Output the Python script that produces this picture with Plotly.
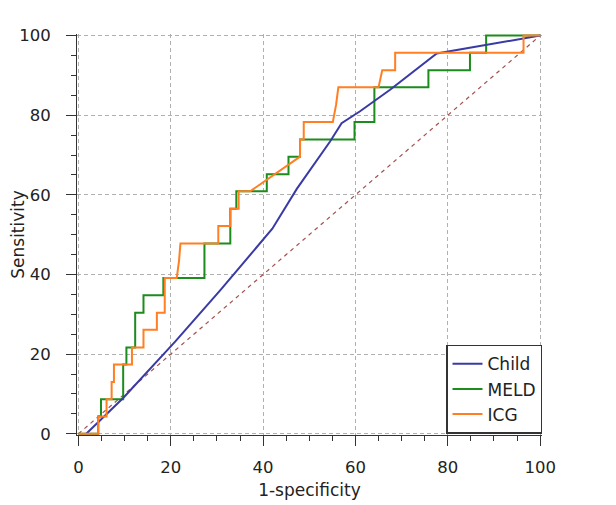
import plotly.graph_objects as go

# Reference diagonal
ref_x = [0, 100]
ref_y = [0, 100]

# Child (smooth ROC)
child_x = [1.7, 9.7, 21.0, 30.7, 42.0, 47.3, 54.5, 57.0, 61.0, 67.5, 77.6, 88.0, 100.0]
child_y = [0.0, 9.0, 23.2, 36.0, 51.5, 61.5, 73.4, 78.0, 81.0, 86.4, 95.5, 97.6, 100.0]

# MELD (step ROC)
meld_x = [0, 4.3, 4.3, 4.9, 4.9, 9.7, 9.7, 10.4, 10.4, 12.3, 12.3, 14.1, 14.1, 18.4, 18.4,
          27.3, 27.3, 32.9, 32.9, 34.2, 34.2, 40.8, 40.8, 45.5, 45.5, 48.0, 48.0, 59.8, 59.8,
          64.1, 64.1, 75.8, 75.8, 84.8, 84.8, 88.3, 88.3, 100]
meld_y = [0, 0, 4.35, 4.35, 8.7, 8.7, 17.4, 17.4, 21.7, 21.7, 30.4, 30.4, 34.8, 34.8, 39.1,
          39.1, 47.8, 47.8, 56.5, 56.5, 60.9, 60.9, 65.2, 65.2, 69.6, 69.6, 73.9, 73.9, 78.3,
          78.3, 87.0, 87.0, 91.3, 91.3, 95.7, 95.7, 100, 100]

# ICG (step ROC)
icg_x = [0, 4.3, 4.3, 6.1, 6.1, 7.2, 7.2, 7.7, 7.7, 11.6, 11.6, 14.1, 14.1, 17.0, 17.0,
         18.7, 18.7, 21.3, 21.8, 22.1, 30.3, 30.3, 32.9, 32.9, 34.7, 34.7, 37.2, 48.0, 48.0,
         48.8, 48.8, 55.1, 55.8, 56.3, 65.0, 65.8, 68.6, 68.6, 96.4, 96.4, 100]
icg_y = [0, 0, 4.35, 4.35, 8.7, 8.7, 13.0, 13.0, 17.4, 17.4, 21.7, 21.7, 26.1, 26.1, 30.4,
         30.4, 39.1, 39.1, 43.5, 47.8, 47.8, 52.2, 52.2, 56.5, 56.5, 60.9, 60.9, 69.6, 73.9,
         73.9, 78.3, 78.3, 82.6, 87.0, 87.0, 91.3, 91.3, 95.7, 95.7, 100, 100]

x_ticks = [0, 20, 40, 60, 80, 100]
y_ticks = [0, 20, 40, 60, 80, 100]

FONT = "DejaVu Sans"

fig = go.Figure()
fig.add_trace(go.Scatter(x=ref_x, y=ref_y, mode="lines", showlegend=False,
                         line=dict(color="#a4504f", width=1.2, dash="4px,4px"), hoverinfo="skip"))
fig.add_trace(go.Scatter(x=meld_x, y=meld_y, mode="lines", name="MELD", legendrank=2,
                         line=dict(color="#1c8c1c", width=2)))
fig.add_trace(go.Scatter(x=child_x, y=child_y, mode="lines", name="Child", legendrank=1,
                         line=dict(color="#3a3aa6", width=2)))
fig.add_trace(go.Scatter(x=icg_x, y=icg_y, mode="lines", name="ICG", legendrank=3,
                         line=dict(color="#ff7f22", width=2)))

axis_common = dict(
    automargin=False,
    showline=True, linecolor="#333333", linewidth=1,
    ticks="outside", ticklen=10, tickcolor="#333333", tickwidth=1,
    showgrid=True, gridcolor="#b0b0b0", griddash="4px,3px", gridwidth=1,
    zeroline=False,
    tickfont=dict(family=FONT, size=16.5, color="#222222"),
    minor=dict(dtick=5, ticks="outside", ticklen=5, tickcolor="#333333", showgrid=False),
)

fig.update_xaxes(range=[-0.3, 100.4], tickvals=x_ticks, ticktext=[str(v) for v in x_ticks],
                 ticklabelstandoff=7,
                 title=dict(text="1-specificity", font=dict(family=FONT, size=17, color="#222222"), standoff=8),
                 **axis_common)
fig.update_yaxes(range=[-0.3, 100.4], tickvals=y_ticks, ticktext=[str(v) for v in y_ticks],
                 ticklabelstandoff=12,
                 title=dict(text="Sensitivity", font=dict(family=FONT, size=17, color="#222222"), standoff=15),
                 **axis_common)

# page body has an 8px margin, so the figure is drawn 8px smaller and margins shifted
fig.update_layout(
    width=608, height=497,
    margin=dict(l=69, r=74, t=26, b=70),
    paper_bgcolor="white", plot_bgcolor="white",
    font=dict(family=FONT, size=17, color="#222222"),
    legend=dict(x=1, xanchor="right", y=0.003, yanchor="bottom",
                bgcolor="white", bordercolor="#333333", borderwidth=1.5,
                font=dict(family=FONT, size=17, color="#222222"),
                tracegroupgap=0, itemwidth=30, entrywidth=80, entrywidthmode="pixels"),
)

fig.write_html("out.html")
